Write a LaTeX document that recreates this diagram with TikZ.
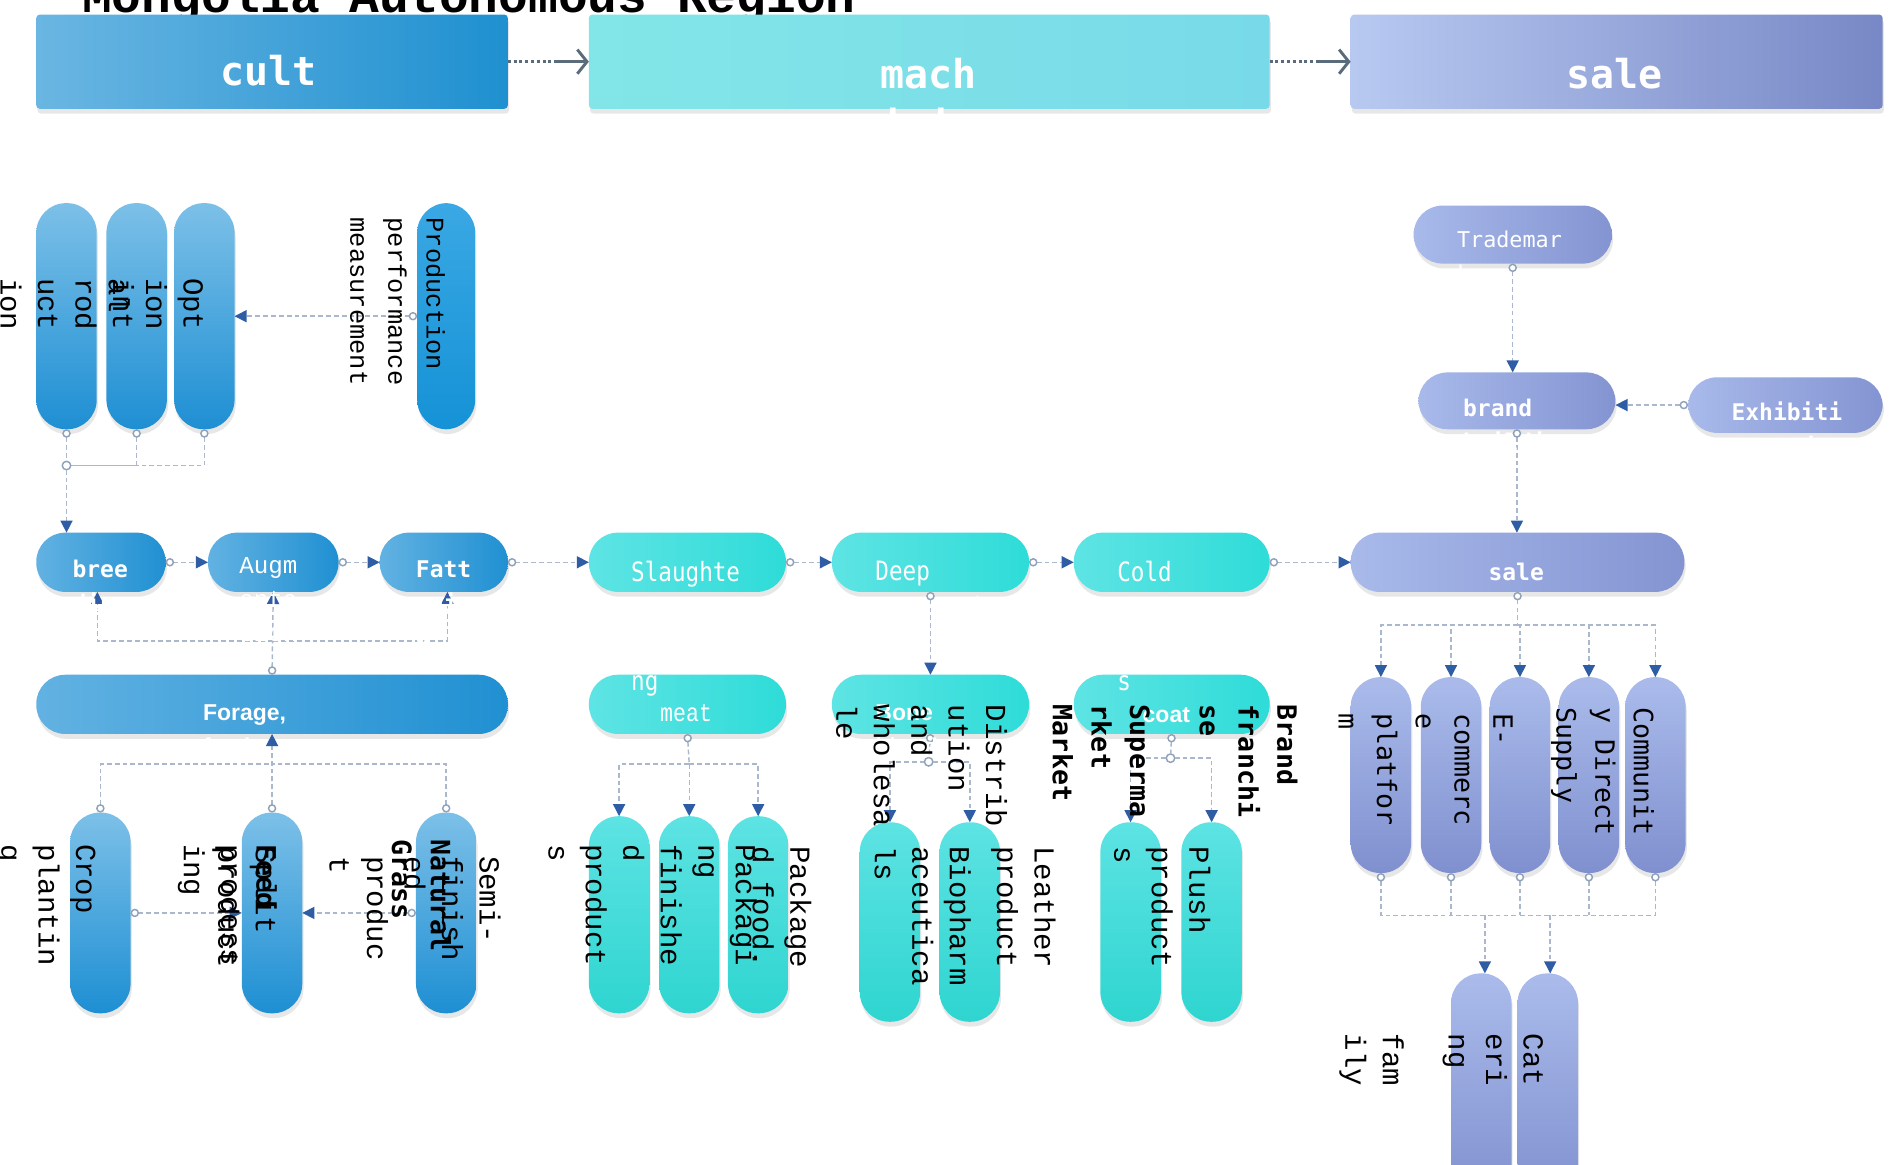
\documentclass[tikz,border=0pt]{standalone}
\usepackage{fontspec}
\setmainfont{Liberation Serif}
\newfontfamily\mserif{Liberation Mono}
\newfontfamily\mserifc[FakeStretch=0.85]{Liberation Mono}
\newfontfamily\msans{DejaVu Sans Mono}
\newfontfamily\msansc[FakeStretch=0.85]{DejaVu Sans Mono}
\newfontfamily\psans{Liberation Sans}
\usetikzlibrary{arrows.meta,shadows,calc}
\definecolor{lineC}{HTML}{A9B8CC}
\definecolor{tipC}{HTML}{2E5DA6}
\definecolor{circC}{HTML}{8FA2BA}
\definecolor{bannerArr}{HTML}{5A6C7C}
\definecolor{hbL}{HTML}{62B2E2}
\definecolor{hbD}{HTML}{2090D2}
\definecolor{vbT}{HTML}{7CC0E8}
\definecolor{vbB}{HTML}{1E8FD3}
\definecolor{prT}{HTML}{3AA8E4}
\definecolor{prB}{HTML}{1592D6}
\definecolor{hcL}{HTML}{5EE4E4}
\definecolor{hcD}{HTML}{2EDCD8}
\definecolor{vcT}{HTML}{5DE3E3}
\definecolor{vcB}{HTML}{2FD5D0}
\definecolor{hpL}{HTML}{A8B9EA}
\definecolor{hpD}{HTML}{8494D2}
\definecolor{vpT}{HTML}{AABBEB}
\definecolor{vpB}{HTML}{8090CF}
\definecolor{cultL}{HTML}{6AB6E2}
\definecolor{cultD}{HTML}{1F90D0}
\definecolor{machL}{HTML}{82E6E8}
\definecolor{machD}{HTML}{78DAE8}
\definecolor{saleL}{HTML}{B8C9F1}
\definecolor{saleD}{HTML}{7888C6}
\newcommand\vser{\mserif\fontsize{24}{31}\selectfont}
\newcommand\vserP{\mserif\fontsize{21}{31.5}\selectfont}
\newcommand\vsan{\msans\fontsize{22}{32}\selectfont}
\newcommand\vsanb{\msans\bfseries\fontsize{22}{32}\selectfont}
\newcommand\hbold{\msans\bfseries\fontsize{19}{28}\selectfont}
\newcommand\hser{\mserif\fontsize{20}{28}\selectfont}
\newcommand\hcond{\msansc\fontsize{22}{30}\selectfont}
\newcommand\hprop{\psans\bfseries\fontsize{19}{28}\selectfont}
\begin{document}
\begin{tikzpicture}[x=1pt,y=-1pt,
  every node/.style={inner sep=0pt,outer sep=0pt},
  shad/.style={drop shadow={opacity=0.13,fill=black!70,shadow xshift=1pt,shadow yshift=-4pt}},
  banner/.style={rectangle,rounded corners=3pt,minimum height=78pt,shad},
  hcap/.style={rectangle,rounded corners=24pt,minimum height=49pt,shad},
  vcap/.style={rectangle,rounded corners=24.5pt,minimum width=50pt,shad},
  hB/.style={hcap,left color=hbL,right color=hbD},
  vB/.style={vcap,top color=vbT,bottom color=vbB},
  hC/.style={hcap,left color=hcL,right color=hcD},
  vC/.style={vcap,top color=vcT,bottom color=vcB},
  hP/.style={hcap,left color=hpL,right color=hpD},
  vP/.style={vcap,top color=vpT,bottom color=vpB},
  ln/.style={draw=lineC,line width=1.2pt,dash pattern=on 4pt off 2.5pt},
  flow/.style={ln,{Circle[open,length=7pt,width=7pt,fill=white,color=circC,line width=1.2pt]}-{Triangle[length=10pt,width=10pt,color=tipC,fill=tipC]}},
  arrowonly/.style={ln,-{Triangle[length=10pt,width=10pt,color=tipC,fill=tipC]}},
  stub/.style={ln,{Circle[open,length=7pt,width=7pt,fill=white,color=circC,line width=1.2pt]}-},
  jdot/.style={circle,draw=circC,fill=white,line width=1.2pt,minimum size=7pt},
  hl/.style={anchor=north west,align=left,text=white},
  vt/.style={rotate=-90,anchor=north west,align=left,text=black},
  btxt/.style={anchor=north,align=center,text=white,font=\msans\bfseries\fontsize{33}{43}\selectfont}
]
\useasboundingbox[fill=white] (0,0) rectangle (1568,963);

% title
\node[anchor=base west,font=\mserif\bfseries\fontsize{41}{41}\selectfont] (title) at (68,10) {Mongolia Autonomous Region};

% banners
\node[banner,minimum width=390pt,left color=cultL,right color=cultD] (bcult) at (225,51) {};
\node[banner,minimum width=563pt,left color=machL,right color=machD] (bmach) at (768.5,51) {};
\node[banner,minimum width=440pt,left color=saleL,right color=saleD] (bsale) at (1337,51) {};
\node[btxt] (lcult) at (222,46) {cult\\ure};
\node[btxt] (lmach) at (768,48) {mach\\inin};
\node[btxt] (lsale) at (1335,48) {sale\\s};
\coordinate (a1) at ($(bmach.west)+(-26,0)$);
\coordinate (a2) at ($(bsale.west)+(-26,0)$);
\draw[bannerArr,line width=2.4pt,dash pattern=on 2.4pt off 2.4pt] (bcult.east) -- (a1);
\draw[bannerArr,line width=2.4pt,-{Straight Barb[length=8pt,width=20pt,line width=2.4pt]}] (a1) -- (bmach.west);
\draw[bannerArr,line width=2.4pt,dash pattern=on 2.4pt off 2.4pt] (bmach.east) -- (a2);
\draw[bannerArr,line width=2.4pt,-{Straight Barb[length=8pt,width=20pt,line width=2.4pt]}] (a2) -- (bsale.west);

% top-left group
\node[vB,minimum height=187pt] (c1) at (55,261.5) {};
\node[vB,minimum height=187pt] (c2) at (113,261.5) {};
\node[vB,minimum height=187pt] (c3) at (169,261.5) {};
\node[vcap,minimum width=48pt,minimum height=187pt,top color=prT,bottom color=prB] (prod) at (369,261.5) {};

% middle row
\node[hB,minimum width=107pt] (bree) at (83.5,465) {};
\node[hB,minimum width=108pt] (augm) at (226,465) {};
\node[hB,minimum width=106pt] (fatt) at (367,465) {};
\node[hC,minimum width=163pt] (slau) at (568.5,465) {};
\node[hC,minimum width=163pt] (deep) at (769.5,465) {};
\node[hC,minimum width=162pt] (cold) at (969,465) {};
\node[hP,minimum width=276pt] (sales) at (1255,465) {};

% top right
\node[hP,minimum width=164pt,minimum height=48pt] (trade) at (1251,194) {};
\node[hP,minimum width=163pt,minimum height=47pt] (brand) at (1254.5,331.5) {};
\node[hP,minimum width=161pt,minimum height=46pt] (exhib) at (1476.5,335) {};

% forage row
\node[hB,minimum width=390pt] (forage) at (225,582.5) {};
\node[hC,minimum width=163pt] (meat) at (568.5,582.5) {};
\node[hC,minimum width=163pt] (bone) at (769.5,582.5) {};
\node[hC,minimum width=162pt] (coat) at (969,582.5) {};

% bottom capsules
\node[vB,minimum height=166pt] (crop) at (83,755) {};
\node[vB,minimum height=166pt] (feed) at (225,755) {};
\node[vB,minimum height=166pt] (natu) at (369,755) {};
\node[vC,minimum height=163pt] (pk1) at (512,756.5) {};
\node[vC,minimum height=163pt] (pk2) at (570,756.5) {};
\node[vC,minimum height=163pt] (pk3) at (627,756.5) {};
\node[vC,minimum height=165pt] (bio1) at (736,762.5) {};
\node[vC,minimum height=165pt] (bio2) at (802,762.5) {};
\node[vC,minimum height=165pt] (sup) at (935,762.5) {};
\node[vC,minimum height=165pt] (plush) at (1002,762.5) {};
\node[vP,minimum height=162pt] (s1) at (1142,641) {};
\node[vP,minimum height=162pt] (s2) at (1200,641) {};
\node[vP,minimum height=162pt] (s3) at (1257,641) {};
\node[vP,minimum height=162pt] (s4) at (1314,641) {};
\node[vP,minimum height=162pt] (s5) at (1369,641) {};
\node[vP,minimum height=190pt] (cat1) at (1225,900) {};
\node[vP,minimum height=190pt] (cat2) at (1280,900) {};

% connectors
\draw[flow] (prod.west) -- (prod.west -| c3.east);
\coordinate (j1) at (55,385);
\draw[stub] (c1.south) -- (j1);
\draw[stub] (c2.south) |- (j1);
\draw[stub] (c3.south) |- (j1);
\node[jdot] (jc1) at (j1) {};
\draw[arrowonly] (jc1) -- (jc1 |- bree.north);

\draw[flow] (bree.east) -- (augm.west);
\draw[flow] (augm.east) -- (fatt.west);
\draw[flow] (fatt.east) -- (slau.west);
\draw[flow] (slau.east) -- (deep.west);
\draw[flow] (deep.east) -- (cold.west);
\draw[flow] (cold.east) -- (sales.west);

\draw[flow] (trade.south) -- (trade.south |- brand.north);
\draw[flow] (exhib.west) -- (exhib.west -| brand.east);
\draw[flow] (brand.south) -- (brand.south |- sales.north);

\draw[flow] (forage.north) -- (augm.south);
\coordinate (j2) at (226,530);
\draw[arrowonly] (j2) -| ($(bree.south)+(-3,0)$);
\draw[arrowonly] (j2) -| ($(fatt.south)+(3,0)$);

\coordinate (j3) at (225,632);
\draw[stub] (crop.north) |- (j3);
\draw[stub] (natu.north) |- (j3);
\draw[flow] (feed.north) -- (forage.south);
\draw[flow] (crop.east) -- (feed.west);
\draw[flow] (natu.west) -- (feed.east);

\draw[flow] (deep.south) -- (bone.north);
\coordinate (j4) at (570,632);
\draw[stub] (meat.south) -- (j4);
\draw[arrowonly] (j4) -| (pk1.north);
\draw[arrowonly] (j4) -- (pk2.north);
\draw[arrowonly] (j4) -| (pk3.north);

\node[jdot] (jc5) at (768,630) {};
\draw[stub] (bone.south) -- (jc5);
\draw[arrowonly] (jc5) -| (bio1.north);
\draw[arrowonly] (jc5) -| (bio2.north);

\node[jdot] (jc6) at (968,627) {};
\draw[stub] (coat.south) -- (jc6);
\draw[arrowonly] (jc6) -| (sup.north);
\draw[arrowonly] (jc6) -| (plush.north);

\coordinate (j7) at (1255,517);
\draw[stub] (sales.south) -- (j7);
\foreach \s in {s1,s2,s3,s4,s5} {\draw[arrowonly] (j7) -| (\s.north);}

\coordinate (j8) at (1255,757);
\draw[stub] (s1.south) |- (j8);
\draw[stub] (s5.south) |- (j8);
\draw[stub] (s2.south) -- (s2.south |- j8);
\draw[stub] (s3.south) -- (s3.south |- j8);
\draw[stub] (s4.south) -- (s4.south |- j8);
\draw[arrowonly] ($(cat1.north |- j8)+(3,0)$) -- ($(cat1.north)+(3,0)$);
\draw[arrowonly] ($(cat2.north |- j8)+(2,0)$) -- ($(cat2.north)+(2,0)$);

% horizontal labels
\node[hl,font=\hbold] (tbree) at (60,463) {bree\\ding};
\node[hl,font=\hser] (taugm) at (198,461) {Augm\\enta\\tion};
\node[hl,font=\hbold] (tfatt) at (344,464) {Fatt\\enin\\g};
\node[hl,font=\hcond] (tslau) at (522,464) {Slaughte\\ring and\\processi\\ng};
\node[hl,font=\hcond] (tdeep) at (724,464) {Deep\\processi\\ng};
\node[hl,font=\hcond] (tcold) at (924,464) {Cold\\chain\\logistic\\s};
\node[hl,font=\hbold] (tsales) at (1231,466) {sale\\s};
\node[hl,font=\msans\fontsize{18}{28}\selectfont] (ttrade) at (1205,191) {Trademar\\k};
\node[hl,font=\hbold] (tbrand) at (1210,330) {brand\\building};
\node[hl,font=\hbold] (texhib) at (1432,332) {Exhibiti\\on and};
\node[hl,font=\hprop] (tforage) at (168,583) {Forage,\\feed};
\node[hl,font=\mserifc\fontsize{21}{28}\selectfont] (tmeat) at (546,583) {meat};
\node[hl,font=\hprop] (tbone) at (724,583) {Bone\\blood};
\node[hl,font=\hprop] (tcoat) at (945,585) {coat};

% vertical labels
\node[vt,font=\vserP] (vprod) at (368,180) {Production\\performance\\measurement};
\node[vt,font=\vser] (vopt) at (168,230) {Opt\\ion\\al};
\node[vt,font=\vser] (vint) at (111,230) {int\\rod\\uct\\ion};
\node[vt,font=\vser] (vcrop) at (79,698) {Crop\\plantin\\g};
\node[vt,font=\vser] (vsplit) at (229,700) {Split\\product};
\node[vt,font=\vsanb] (vfeed) at (229,698) {Feed};
\node[vt,font=\vser] (vproc) at (196,698) {process\\ing};
\node[vt,font=\vser] (vsemi) at (414,708) {Semi-\\finish\\ed\\produc\\t};
\node[vt,font=\vsanb] (vnat) at (373,694) {Natural\\Grass};
\node[vt,font=\vser] (vpkd) at (671,700) {Package\\d food.};
\node[vt,font=\vser] (vpkg) at (626,698) {Packagi\\ng\\finishe\\d\\product\\s};
\node[vt,font=\vser] (vdist) at (833,583) {Distrib\\ution\\and\\wholesa\\le};
\node[vt,font=\vser] (vleat) at (873,700) {Leather\\product};
\node[vt,font=\vser] (vbio) at (803,700) {Biopharm\\aceutica\\ls};
\node[vt,font=\vsanb] (vsup) at (951,583) {Superma\\rket\\Market};
\node[vt,font=\vsanb] (vbrand) at (1073,583) {Brand\\franchi\\se};
\node[vt,font=\vser] (vplush) at (1001,700) {Plush\\product\\s};
\node[vt,font=\vsan] (vcomm) at (1368,585) {Communit\\y Direct\\Supply};
\node[vt,font=\vsan] (vecom) at (1251,590) {E-\\commerc\\e\\platfor\\m};
\node[vt,font=\vser] (vcat) at (1276,855) {Cat\\eri\\ng};
\node[vt,font=\vser] (vfam) at (1161,855) {fam\\ily};
\end{tikzpicture}
\end{document}
